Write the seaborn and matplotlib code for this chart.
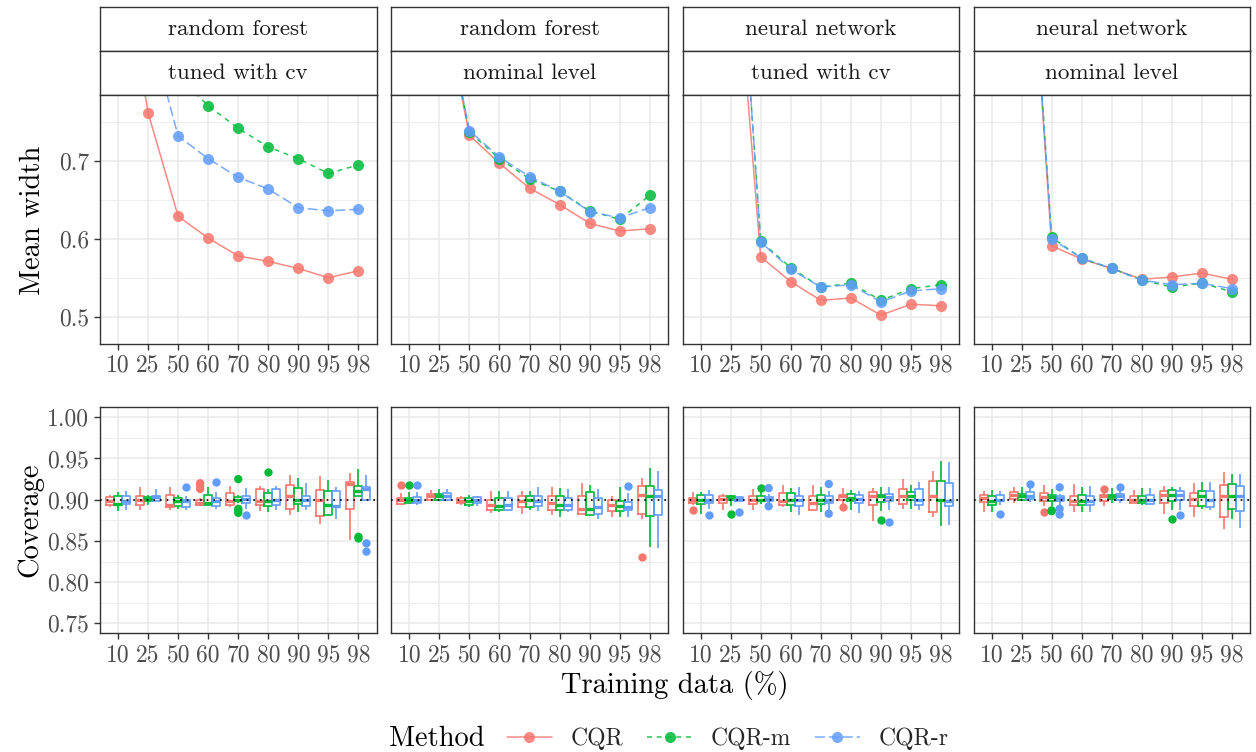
import numpy as np
import pandas as pd
import matplotlib
matplotlib.use("Agg")
import matplotlib.pyplot as plt
import seaborn as sns
from matplotlib.lines import Line2D

# ---------------- data ----------------
train_levels = ["10", "25", "50", "60", "70", "80", "90", "95", "98"]
methods = ["CQR", "CQR-m", "CQR-r"]
panel_ids = ["rf_cv", "rf_nom", "nn_cv", "nn_nom"]
strip_top = ["random forest", "random forest", "neural network", "neural network"]
strip_bottom = ["tuned with cv", "nominal level", "tuned with cv", "nominal level"]
colors = ["#F8766D", "#00BA38", "#619CFF"]

# Mean width (top row), one value per training share
width_rf_cv_cqr = [0.99, 0.762, 0.629, 0.601, 0.578, 0.571, 0.562, 0.550, 0.559]
width_rf_cv_cqrm = [1.05, 0.90, 0.809, 0.771, 0.742, 0.718, 0.703, 0.684, 0.695]
width_rf_cv_cqrr = [1.02, 0.876, 0.732, 0.703, 0.679, 0.664, 0.640, 0.636, 0.638]

width_rf_nom_cqr = [1.10, 0.926, 0.733, 0.697, 0.665, 0.644, 0.620, 0.610, 0.613]
width_rf_nom_cqrm = [1.10, 0.930, 0.737, 0.703, 0.677, 0.661, 0.636, 0.625, 0.656]
width_rf_nom_cqrr = [1.10, 0.932, 0.739, 0.705, 0.680, 0.661, 0.635, 0.627, 0.640]

width_nn_cv_cqr = [1.25, 1.056, 0.577, 0.545, 0.521, 0.524, 0.502, 0.516, 0.514]
width_nn_cv_cqrm = [1.30, 1.16, 0.597, 0.563, 0.538, 0.543, 0.521, 0.536, 0.541]
width_nn_cv_cqrr = [1.30, 1.16, 0.596, 0.561, 0.538, 0.541, 0.519, 0.533, 0.536]

width_nn_nom_cqr = [1.35, 1.17, 0.591, 0.574, 0.562, 0.548, 0.551, 0.556, 0.548]
width_nn_nom_cqrm = [1.35, 1.17, 0.602, 0.575, 0.562, 0.547, 0.538, 0.543, 0.532]
width_nn_nom_cqrr = [1.35, 1.17, 0.600, 0.575, 0.562, 0.547, 0.541, 0.543, 0.536]

# Coverage (bottom row): per training share [lower whisker, Q1, median, Q3, upper whisker]
cov_rf_cv_cqr = [[0.891, 0.894, 0.898, 0.903, 0.906], [0.887, 0.894, 0.900, 0.904, 0.916],
                 [0.887, 0.891, 0.894, 0.906, 0.915], [0.892, 0.893, 0.896, 0.900, 0.902],
                 [0.891, 0.893, 0.898, 0.908, 0.917], [0.886, 0.893, 0.898, 0.913, 0.917],
                 [0.882, 0.889, 0.904, 0.918, 0.930], [0.871, 0.880, 0.900, 0.912, 0.929],
                 [0.851, 0.889, 0.919, 0.922, 0.932]]
cov_rf_cv_cqrm = [[0.886, 0.894, 0.895, 0.904, 0.909], [0.894, 0.898, 0.901, 0.903, 0.906],
                  [0.889, 0.892, 0.898, 0.902, 0.906], [0.893, 0.894, 0.896, 0.906, 0.916],
                  [0.896, 0.898, 0.900, 0.903, 0.906], [0.885, 0.892, 0.898, 0.908, 0.913],
                  [0.885, 0.895, 0.900, 0.914, 0.926], [0.880, 0.881, 0.894, 0.911, 0.924],
                  [0.904, 0.904, 0.911, 0.917, 0.937]]
cov_rf_cv_cqrr = [[0.887, 0.895, 0.898, 0.904, 0.911], [0.898, 0.898, 0.903, 0.905, 0.913],
                  [0.887, 0.891, 0.899, 0.900, 0.904], [0.889, 0.892, 0.898, 0.902, 0.909],
                  [0.889, 0.896, 0.901, 0.904, 0.914], [0.888, 0.893, 0.900, 0.913, 0.917],
                  [0.887, 0.892, 0.900, 0.905, 0.920], [0.876, 0.891, 0.892, 0.910, 0.916],
                  [0.900, 0.900, 0.913, 0.915, 0.930]]

cov_rf_nom_cqr = [[0.894, 0.895, 0.900, 0.902, 0.908], [0.898, 0.900, 0.904, 0.907, 0.912],
                  [0.894, 0.896, 0.899, 0.902, 0.904], [0.884, 0.887, 0.894, 0.900, 0.911],
                  [0.883, 0.891, 0.898, 0.905, 0.911], [0.881, 0.888, 0.896, 0.905, 0.915],
                  [0.883, 0.883, 0.889, 0.904, 0.920], [0.879, 0.886, 0.894, 0.900, 0.904],
                  [0.877, 0.883, 0.906, 0.917, 0.926]]
cov_rf_nom_cqrm = [[0.895, 0.896, 0.900, 0.902, 0.909], [0.900, 0.900, 0.904, 0.907, 0.913],
                   [0.891, 0.894, 0.898, 0.902, 0.906], [0.885, 0.887, 0.892, 0.902, 0.910],
                   [0.887, 0.891, 0.900, 0.905, 0.910], [0.879, 0.887, 0.894, 0.905, 0.914],
                   [0.881, 0.881, 0.889, 0.909, 0.918], [0.879, 0.886, 0.892, 0.898, 0.915],
                   [0.843, 0.880, 0.904, 0.917, 0.939]]
cov_rf_nom_cqrr = [[0.894, 0.896, 0.900, 0.903, 0.909], [0.900, 0.900, 0.904, 0.908, 0.913],
                   [0.892, 0.896, 0.900, 0.903, 0.905], [0.886, 0.887, 0.894, 0.902, 0.910],
                   [0.886, 0.892, 0.898, 0.904, 0.915], [0.885, 0.887, 0.894, 0.902, 0.913],
                   [0.877, 0.883, 0.891, 0.902, 0.913], [0.879, 0.887, 0.891, 0.897, 0.908],
                   [0.841, 0.881, 0.904, 0.912, 0.935]]

cov_nn_cv_cqr = [[0.894, 0.896, 0.900, 0.902, 0.909], [0.888, 0.896, 0.901, 0.905, 0.907],
                 [0.888, 0.895, 0.900, 0.905, 0.913], [0.891, 0.894, 0.898, 0.908, 0.918],
                 [0.887, 0.888, 0.896, 0.905, 0.918], [0.895, 0.900, 0.904, 0.906, 0.914],
                 [0.874, 0.893, 0.904, 0.909, 0.914], [0.889, 0.895, 0.904, 0.913, 0.925],
                 [0.879, 0.885, 0.904, 0.923, 0.935]]
cov_nn_cv_cqrm = [[0.883, 0.895, 0.900, 0.906, 0.909], [0.892, 0.900, 0.903, 0.905, 0.906],
                  [0.895, 0.898, 0.900, 0.904, 0.913], [0.885, 0.894, 0.900, 0.908, 0.914],
                  [0.885, 0.895, 0.900, 0.906, 0.915], [0.887, 0.898, 0.902, 0.907, 0.912],
                  [0.886, 0.897, 0.904, 0.906, 0.915], [0.889, 0.900, 0.904, 0.909, 0.918],
                  [0.868, 0.898, 0.900, 0.923, 0.947]]
cov_nn_cv_cqrr = [[0.889, 0.896, 0.900, 0.906, 0.912], [0.898, 0.899, 0.901, 0.903, 0.904],
                  [0.896, 0.899, 0.901, 0.903, 0.907], [0.881, 0.892, 0.900, 0.905, 0.915],
                  [0.887, 0.896, 0.900, 0.904, 0.910], [0.884, 0.896, 0.901, 0.906, 0.911],
                  [0.887, 0.898, 0.903, 0.907, 0.916], [0.888, 0.894, 0.900, 0.913, 0.922],
                  [0.869, 0.892, 0.898, 0.920, 0.946]]

cov_nn_nom_cqr = [[0.885, 0.897, 0.902, 0.906, 0.911], [0.896, 0.901, 0.906, 0.909, 0.915],
                  [0.892, 0.898, 0.903, 0.908, 0.918], [0.885, 0.894, 0.898, 0.905, 0.919],
                  [0.892, 0.899, 0.904, 0.906, 0.908], [0.896, 0.896, 0.900, 0.904, 0.912],
                  [0.883, 0.896, 0.906, 0.911, 0.917], [0.879, 0.892, 0.901, 0.908, 0.920],
                  [0.864, 0.879, 0.904, 0.918, 0.933]]
cov_nn_nom_cqrm = [[0.885, 0.894, 0.898, 0.905, 0.912], [0.898, 0.900, 0.904, 0.907, 0.915],
                   [0.892, 0.898, 0.903, 0.906, 0.913], [0.885, 0.894, 0.898, 0.906, 0.916],
                   [0.896, 0.901, 0.904, 0.906, 0.914], [0.894, 0.896, 0.900, 0.905, 0.914],
                   [0.887, 0.899, 0.906, 0.912, 0.915], [0.889, 0.892, 0.904, 0.910, 0.922],
                   [0.876, 0.889, 0.904, 0.919, 0.931]]
cov_nn_nom_cqrr = [[0.894, 0.898, 0.900, 0.906, 0.911], [0.897, 0.901, 0.905, 0.909, 0.915],
                   [0.892, 0.898, 0.902, 0.905, 0.907], [0.885, 0.894, 0.898, 0.905, 0.917],
                   [0.896, 0.900, 0.904, 0.907, 0.911], [0.895, 0.895, 0.900, 0.906, 0.914],
                   [0.888, 0.900, 0.906, 0.910, 0.916], [0.888, 0.891, 0.900, 0.910, 0.922],
                   [0.866, 0.886, 0.904, 0.917, 0.931]]

# Outlying coverage values: (training share, method, coverage)
out_rf_cv = [("60", "CQR", 0.920), ("60", "CQR", 0.917), ("60", "CQR", 0.913),
             ("50", "CQR-r", 0.915), ("60", "CQR-r", 0.921),
             ("70", "CQR-m", 0.925), ("70", "CQR-m", 0.889), ("70", "CQR-m", 0.887),
             ("70", "CQR-m", 0.884), ("70", "CQR-r", 0.882), ("80", "CQR-m", 0.933),
             ("98", "CQR-m", 0.855), ("98", "CQR-m", 0.853),
             ("98", "CQR-r", 0.847), ("98", "CQR-r", 0.837)]
out_rf_nom = [("10", "CQR", 0.918), ("10", "CQR-m", 0.918), ("10", "CQR-r", 0.918),
              ("95", "CQR-r", 0.917), ("98", "CQR", 0.831)]
out_nn_cv = [("10", "CQR", 0.887), ("10", "CQR-r", 0.881), ("25", "CQR-m", 0.883),
             ("25", "CQR-r", 0.885), ("50", "CQR-m", 0.914), ("50", "CQR-r", 0.914),
             ("50", "CQR-r", 0.892), ("70", "CQR-r", 0.919), ("70", "CQR-r", 0.883),
             ("80", "CQR", 0.891), ("90", "CQR-m", 0.875), ("90", "CQR-r", 0.873)]
out_nn_nom = [("10", "CQR-r", 0.883), ("25", "CQR-r", 0.919), ("50", "CQR", 0.885),
              ("50", "CQR-m", 0.887), ("50", "CQR-m", 0.886), ("50", "CQR-r", 0.915),
              ("50", "CQR-r", 0.889), ("50", "CQR-r", 0.882), ("70", "CQR", 0.913),
              ("70", "CQR-r", 0.915), ("90", "CQR-m", 0.877), ("90", "CQR-r", 0.881)]

# ---------------- tidy tables ----------------
width_series = {
    "rf_cv": [width_rf_cv_cqr, width_rf_cv_cqrm, width_rf_cv_cqrr],
    "rf_nom": [width_rf_nom_cqr, width_rf_nom_cqrm, width_rf_nom_cqrr],
    "nn_cv": [width_nn_cv_cqr, width_nn_cv_cqrm, width_nn_cv_cqrr],
    "nn_nom": [width_nn_nom_cqr, width_nn_nom_cqrm, width_nn_nom_cqrr],
}
cov_series = {
    "rf_cv": [cov_rf_cv_cqr, cov_rf_cv_cqrm, cov_rf_cv_cqrr],
    "rf_nom": [cov_rf_nom_cqr, cov_rf_nom_cqrm, cov_rf_nom_cqrr],
    "nn_cv": [cov_nn_cv_cqr, cov_nn_cv_cqrm, cov_nn_cv_cqrr],
    "nn_nom": [cov_nn_nom_cqr, cov_nn_nom_cqrm, cov_nn_nom_cqrr],
}
out_series = {"rf_cv": out_rf_cv, "rf_nom": out_rf_nom, "nn_cv": out_nn_cv, "nn_nom": out_nn_nom}

rows_w, rows_c, rows_o = [], [], []
for pid in panel_ids:
    for m, wvals, cvals in zip(methods, width_series[pid], cov_series[pid]):
        for t, w, c5 in zip(train_levels, wvals, cvals):
            rows_w.append((pid, t, m, w))
            for v in c5:
                rows_c.append((pid, t, m, v))
    for t, m, v in out_series[pid]:
        rows_o.append((pid, t, m, v))
df_w = pd.DataFrame(rows_w, columns=["panel", "train", "method", "width"])
df_c = pd.DataFrame(rows_c, columns=["panel", "train", "method", "coverage"])
df_o = pd.DataFrame(rows_o, columns=["panel", "train", "method", "coverage"])

# ---------------- style ----------------
sns.set_theme(style="white")
plt.rcParams["font.family"] = ["cmr10", "DejaVu Serif"]
plt.rcParams["mathtext.fontset"] = "cm"
plt.rcParams["axes.formatter.use_mathtext"] = True
plt.rcParams["axes.unicode_minus"] = False

W, H = 1256, 752
fig = plt.figure(figsize=(W / 100, H / 100), dpi=100)
fig.patch.set_facecolor("white")

border = "#333333"
tick_txt = "#4D4D4D"
grid_c = "#EBEBEB"
tick_fs = 17
title_fs = 20.5
strip_fs = 16.6
legend_title_fs = 20.5
legend_fs = 17

col_left = [100, 391.3, 682.5, 973.5]
col_w = 276.5
top_y0, top_y1 = 95, 344
bot_y0, bot_y1 = 407.3, 633.3


def fbox(x0, y0, w, h):
    return [x0 / W, 1 - (y0 + h) / H, w / W, h / H]


linestyles = ["-", (0, (3.2, 3.2)), (0, (6.5, 2.6))]


def style_axis(ax, first_col):
    for s in ax.spines.values():
        s.set_color(border)
        s.set_linewidth(1.0)
        s.set_visible(True)
    ax.set_axisbelow(True)
    ax.grid(which="major", color=grid_c, linewidth=1.2)
    ax.grid(which="minor", axis="y", color=grid_c, linewidth=0.6)
    ax.tick_params(axis="both", which="major", direction="out", length=4.3, width=1.0,
                   color=border, labelcolor=tick_txt, labelsize=tick_fs, pad=3.5)
    ax.tick_params(axis="y", which="minor", left=False)
    ax.tick_params(axis="x", bottom=True)
    if first_col:
        ax.tick_params(axis="y", left=True)
    else:
        ax.tick_params(axis="y", left=False, labelleft=False)
    ax.set_xlabel("")
    ax.set_ylabel("")
    ax.set_xlim(-0.6, 8.6)
    ax.set_xticks(range(len(train_levels)))
    ax.set_xticklabels(train_levels)


for j, pid in enumerate(panel_ids):
    x0 = col_left[j]
    # strips
    for k, (txt, sy) in enumerate([(strip_top[j], 7), (strip_bottom[j], 51)]):
        sax = fig.add_axes(fbox(x0, sy, col_w, 44))
        sax.set_xticks([])
        sax.set_yticks([])
        sax.set_facecolor("white")
        for s in sax.spines.values():
            s.set_color(border)
            s.set_linewidth(1.0)
        sax.text(0.5, 0.5, txt, ha="center", va="center", fontsize=strip_fs,
                 color="#1A1A1A", transform=sax.transAxes)

    # top: mean width
    ax = fig.add_axes(fbox(x0, top_y0, col_w, top_y1 - top_y0))
    sub = df_w[df_w["panel"] == pid]
    sns.pointplot(data=sub, x="train", y="width", hue="method", order=train_levels,
                  hue_order=methods, palette=colors, markers="o", linestyles=linestyles,
                  errorbar=None, dodge=False, legend=False, ax=ax,
                  markersize=8, linewidth=1.1, markeredgewidth=0, alpha=0.85)
    ax.set_ylim(0.4649, 0.7848)
    ax.set_yticks([0.5, 0.6, 0.7])
    ax.set_yticklabels(["0.5", "0.6", "0.7"])
    ax.set_yticks([0.55, 0.65, 0.75], minor=True)
    style_axis(ax, j == 0)

    # bottom: coverage
    ax2 = fig.add_axes(fbox(x0, bot_y0, col_w, bot_y1 - bot_y0))
    subc = df_c[df_c["panel"] == pid]
    sns.boxplot(data=subc, x="train", y="coverage", hue="method", order=train_levels,
                hue_order=methods, palette=colors, fill=False, whis=(0, 100),
                showfliers=False, showcaps=False, width=0.8, linewidth=1.2,
                legend=False, ax=ax2, medianprops={"linewidth": 2.4})
    for p in ax2.patches:
        p.set_fill(True)
        p.set_facecolor("white")
    subo = df_o[df_o["panel"] == pid]
    sns.stripplot(data=subo, x="train", y="coverage", hue="method", order=train_levels,
                  hue_order=methods, palette=colors, dodge=True, jitter=False, size=6,
                  linewidth=0, legend=False, ax=ax2, zorder=4)
    ax2.axhline(0.90, color="black", linestyle=(0, (1, 3)), linewidth=1.2, zorder=3.5)
    ax2.set_ylim(0.7379, 1.0121)
    cov_ticks = [0.75, 0.80, 0.85, 0.90, 0.95, 1.00]
    ax2.set_yticks(cov_ticks)
    ax2.set_yticklabels([f"{t:.2f}" for t in cov_ticks])
    ax2.set_yticks([0.775, 0.825, 0.875, 0.925, 0.975], minor=True)
    style_axis(ax2, j == 0)

# axis titles
fig.text(33 / W, 1 - 220 / H, "Mean width", rotation=90, ha="center", va="center",
         fontsize=title_fs, color="black")
fig.text(30 / W, 1 - 520 / H, "Coverage", rotation=90, ha="center", va="center",
         fontsize=title_fs, color="black")
fig.text(675 / W, 1 - 686 / H, "Training data (%)", ha="center", va="center",
         fontsize=title_fs, color="black")

# legend
fig.text(389 / W, 1 - 739 / H, "Method", ha="left", va="center", fontsize=legend_title_fs,
         color="black")
handles = [Line2D([0], [0], color=c, linestyle=ls, linewidth=1.1, marker="o",
                  markersize=8, markeredgewidth=0, alpha=0.85)
           for c, ls in zip(colors, linestyles)]
fig.legend(handles, methods, loc="center left", bbox_to_anchor=(507 / W, 1 - 739 / H),
           ncol=3, frameon=False, fontsize=legend_fs, handlelength=1.9,
           handletextpad=0.8, columnspacing=1.0, borderpad=0, borderaxespad=0)

fig.savefig("out.png", dpi=100, facecolor="white")
